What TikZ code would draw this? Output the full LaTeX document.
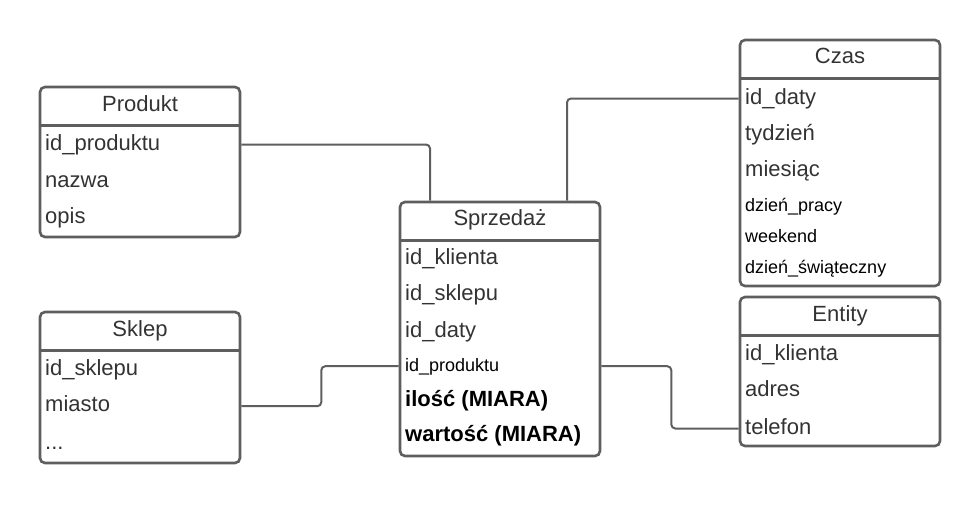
\documentclass[tikz,border=0pt]{standalone}
\usepackage{fontspec}
\setmainfont{Liberation Sans}
\usepackage{tikz}
\usetikzlibrary{positioning,calc}
\definecolor{erline}{HTML}{5E5E5E}
\definecolor{ertext}{HTML}{333333}

\begin{document}
\begin{tikzpicture}[x=1pt,y=-1pt,
  tbl/.style={draw=erline,line width=2.6pt,rounded corners=5pt,minimum width=200pt,inner sep=0pt},
  sep/.style={draw=erline,line width=2.6pt},
  head/.style={font=\fontsize{22}{24}\selectfont,text=ertext,anchor=base},
  fld/.style={font=\fontsize{22}{24}\selectfont,text=ertext,anchor=base west,inner sep=0pt,text height=16pt,text depth=5pt},
  small/.style={fld,font=\fontsize{18}{20}\selectfont,text=black},
  key/.style={fld,font=\fontsize{22}{24}\selectfont\bfseries,text=black},
  link/.style={draw=erline,line width=2pt,rounded corners=4pt}]
\useasboundingbox (0,0) rectangle (980,504);

\node[tbl,minimum height=150pt] (produkt) at (140,162) {};
\draw[sep] ([yshift=-40pt]produkt.north west) -- ([yshift=-40pt]produkt.north east);
\node[head] (produkt-t) at (140,111.7) {Produkt};
\node[fld] (produkt-1) at (45,150) {id\_produktu};
\node[fld] (produkt-2) at (45,187.3) {nazwa};
\node[fld] (produkt-3) at (45,223.3) {opis};

\node[tbl,minimum height=151pt] (sklep) at (140,387.5) {};
\draw[sep] ([yshift=-40pt]sklep.north west) -- ([yshift=-40pt]sklep.north east);
\node[head] (sklep-t) at (140,336) {Sklep};
\node[fld] (sklep-1) at (45,375) {id\_sklepu};
\node[fld] (sklep-2) at (45,411.7) {miasto};
\node[fld] (sklep-3) at (45,449.3) {...};

\node[tbl,minimum height=254pt] (sprzedaz) at (500,329) {};
\draw[sep] ([yshift=-40pt]sprzedaz.north west) -- ([yshift=-40pt]sprzedaz.north east);
\node[head] (sprzedaz-t) at (500,225) {Sprzedaż};
\node[fld] (sprzedaz-1) at (405,264) {id\_klienta};
\node[fld] (sprzedaz-2) at (405,300.5) {id\_sklepu};
\node[fld] (sprzedaz-3) at (405,337.5) {id\_daty};
\node[small] (sprzedaz-4) at (405,371.7) {id\_produktu};
\node[key] (sprzedaz-5) at (405,406.7) {ilość (MIARA)};
\node[key] (sprzedaz-6) at (405,441.7) {wartość (MIARA)};

\node[tbl,minimum height=246pt] (czas) at (840,163) {};
\draw[sep] ([yshift=-40pt]czas.north west) -- ([yshift=-40pt]czas.north east);
\node[head] (czas-t) at (840,63.3) {Czas};
\node[fld] (czas-1) at (745,104) {id\_daty};
\node[fld] (czas-2) at (745,140.7) {tydzień};
\node[fld] (czas-3) at (745,176.7) {miesiąc};
\node[small] (czas-4) at (745,211.7) {dzień\_pracy};
\node[small] (czas-5) at (745,242.3) {weekend};
\node[small] (czas-6) at (745,273.3) {dzień\_świąteczny};

\node[tbl,minimum height=149pt] (entity) at (840,371.5) {};
\draw[sep] ([yshift=-40pt]entity.north west) -- ([yshift=-40pt]entity.north east);
\node[head] (entity-t) at (840,321.7) {Entity};
\node[fld] (entity-1) at (745,360) {id\_klienta};
\node[fld] (entity-2) at (745,396.7) {adres};
\node[fld] (entity-3) at (745,434) {telefon};

\draw[link] (produkt.east |- produkt-1) -| ([xshift=-70pt]sprzedaz.north);
\draw[link] (czas.west |- czas-1) -| ([xshift=67pt]sprzedaz.north);
\draw[link] (sklep.east |- sklep-2) -- ++(80,0) |- (sprzedaz.west |- sprzedaz-4);
\draw[link] (sprzedaz.east |- sprzedaz-4) -- ++(70,0) |- (entity.west |- entity-3);
\end{tikzpicture}
\end{document}
